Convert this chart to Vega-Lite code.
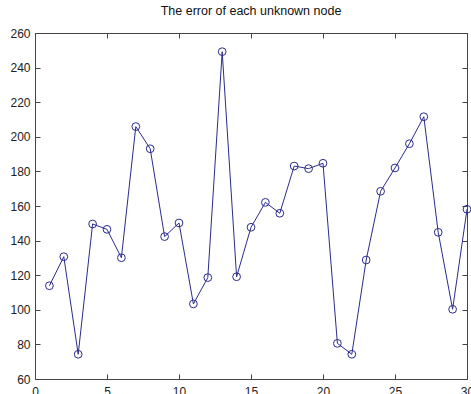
{
  "$schema": "https://vega.github.io/schema/vega-lite/v6.json",
  "width": 432,
  "height": 346,
  "autosize": {"type": "none"},
  "padding": {"left": 35, "top": 33, "right": 4, "bottom": 15},
  "background": "white",
  "title": {"text": "The error of each unknown node", "fontSize": 12.5, "font": "Liberation Sans", "fontWeight": "normal", "color": "#111", "anchor": "middle", "offset": 10},
  "config": {"view": {"stroke": null}, "axis": {"grid": false, "domainColor": "#444", "tickColor": "#444", "labelColor": "#222", "labelFont": "Liberation Sans", "labelFontSize": 12, "title": null}},
  "data": {"values": [
    {"node": 1, "error": 113.9}, {"node": 2, "error": 130.7}, {"node": 3, "error": 74.3},
    {"node": 4, "error": 149.6}, {"node": 5, "error": 146.5}, {"node": 6, "error": 130.1},
    {"node": 7, "error": 205.9}, {"node": 8, "error": 193.1}, {"node": 9, "error": 142.3},
    {"node": 10, "error": 150.2}, {"node": 11, "error": 103.4}, {"node": 12, "error": 118.6},
    {"node": 13, "error": 249.2}, {"node": 14, "error": 119.1}, {"node": 15, "error": 147.7},
    {"node": 16, "error": 162.1}, {"node": 17, "error": 155.8}, {"node": 18, "error": 183.1},
    {"node": 19, "error": 181.6}, {"node": 20, "error": 184.7}, {"node": 21, "error": 80.6},
    {"node": 22, "error": 74.3}, {"node": 23, "error": 128.8}, {"node": 24, "error": 168.5},
    {"node": 25, "error": 182.0}, {"node": 26, "error": 196.0}, {"node": 27, "error": 211.6},
    {"node": 28, "error": 144.8}, {"node": 29, "error": 100.3}, {"node": 30, "error": 158.1}
  ]},
  "layer": [
    {
      "mark": {"type": "line", "color": "#2b2b8c", "strokeWidth": 1, "clip": true},
      "encoding": {
        "x": {"field": "node", "type": "quantitative", "scale": {"domain": [0, 30], "nice": false, "zero": false},
              "axis": {"orient": "bottom", "values": [0, 5, 10, 15, 20, 25, 30], "tickSize": -5, "labelPadding": 12, "labelFlush": false}},
        "y": {"field": "error", "type": "quantitative", "scale": {"domain": [60, 260], "nice": false, "zero": false},
              "axis": {"orient": "left", "values": [60, 80, 100, 120, 140, 160, 180, 200, 220, 240, 260], "tickSize": -5, "labelPadding": 10, "labelFlush": false}}
      }
    },
    {
      "mark": {"type": "point", "shape": "circle", "filled": false, "color": "#2b2b8c", "size": 60, "strokeWidth": 1, "opacity": 1},
      "encoding": {
        "x": {"field": "node", "type": "quantitative",
              "axis": {"orient": "top", "values": [0, 5, 10, 15, 20, 25, 30], "tickSize": -5, "labels": false}},
        "y": {"field": "error", "type": "quantitative",
              "axis": {"orient": "right", "values": [60, 80, 100, 120, 140, 160, 180, 200, 220, 240, 260], "tickSize": -5, "labels": false}}
      }
    }
  ],
  "resolve": {"axis": {"x": "independent", "y": "independent"}}
}
